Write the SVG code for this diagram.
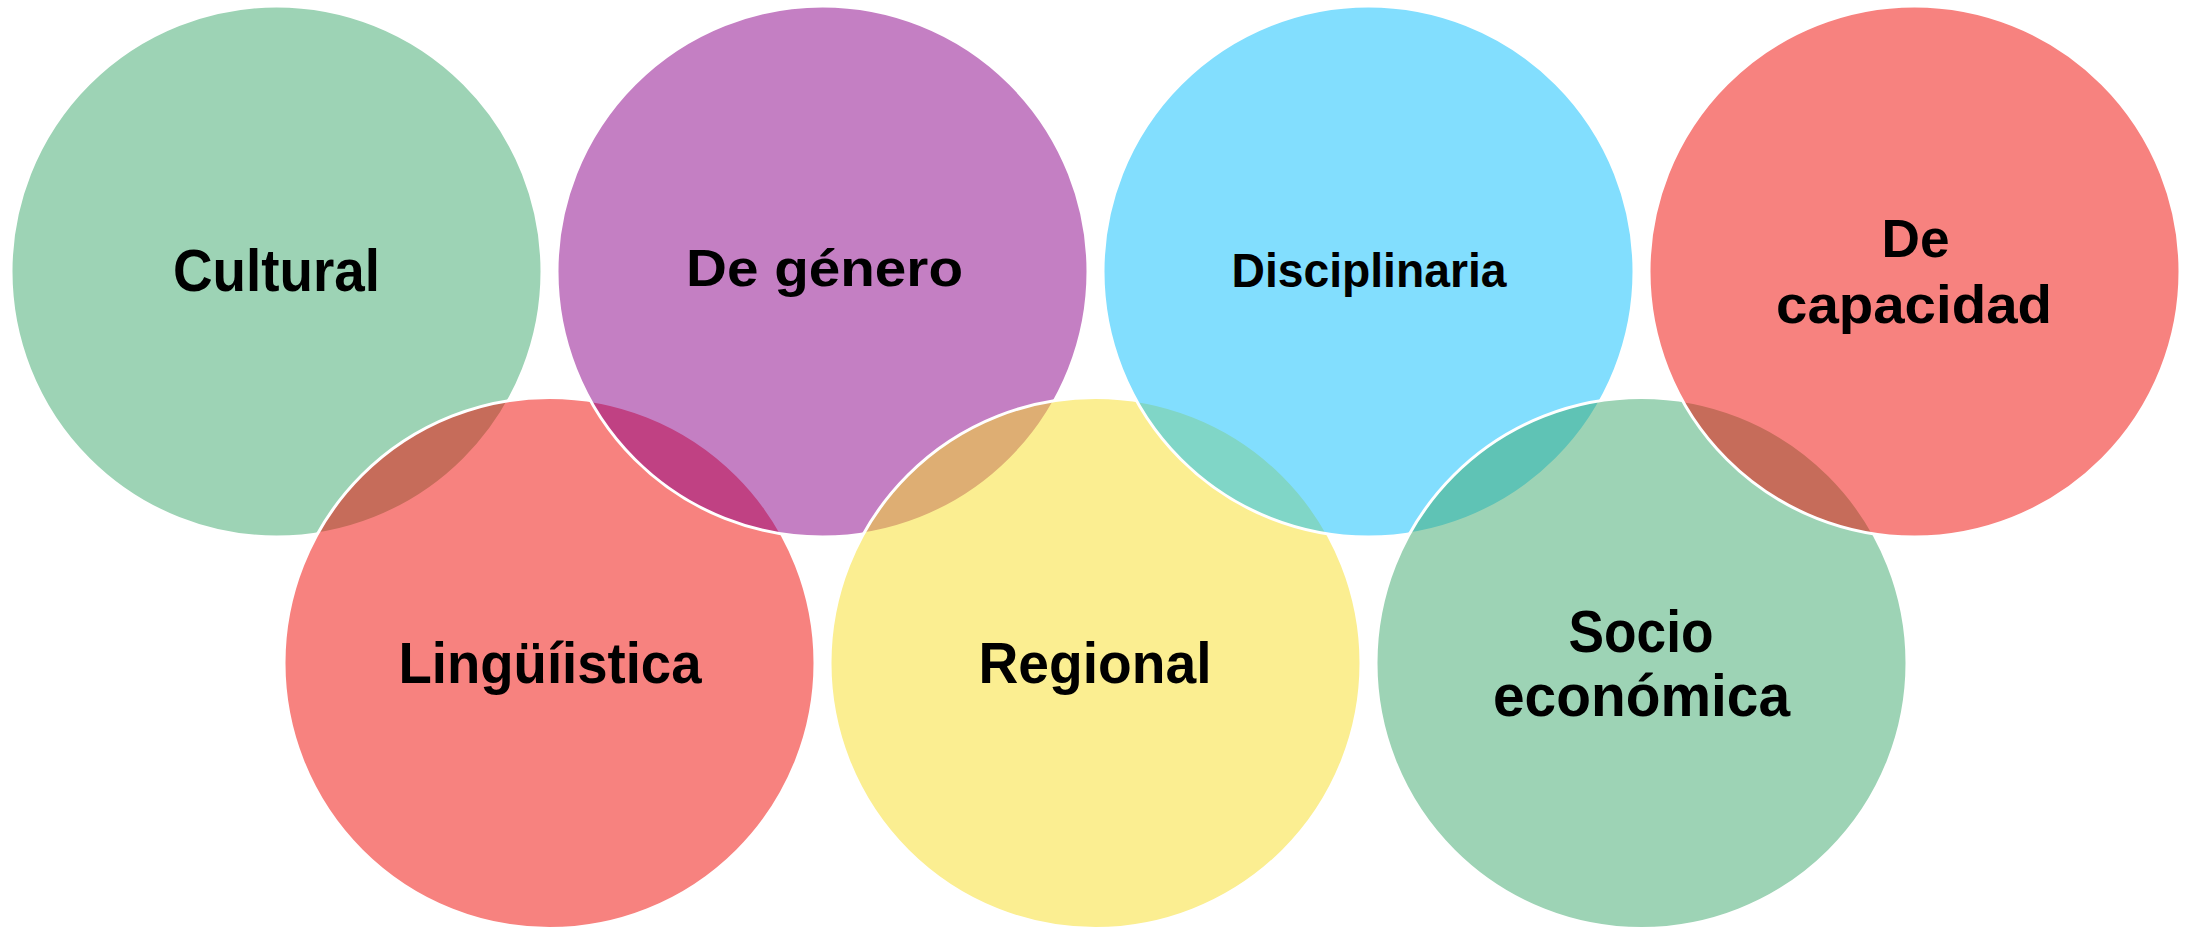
<svg xmlns="http://www.w3.org/2000/svg" width="2196" height="929" viewBox="0 0 2196 929">
<style>
.c{stroke:#FFFFFF;stroke-width:3;fill-opacity:0.5}
.green{fill:#3BA76B}
.purple{fill:#8A0088}
.cyan{fill:#05BDFD}
.red{fill:#EF0500}
.yellow{fill:#F7DD23}
.t{font-family:"Liberation Sans",Arial,sans-serif;font-weight:bold;fill:#000000;text-anchor:middle}
</style>
<rect width="2196" height="929" fill="#FFFFFF"/>
<g id="connectors"></g>
<g id="node-cultural">
<circle class="c green" cx="276.5" cy="271.5" r="265.5"/>
<text class="t" x="276.5" y="291" font-size="60" textLength="207" lengthAdjust="spacingAndGlyphs">Cultural</text>
</g>
<g id="node-linguistica">
<circle class="c red" cx="549.5" cy="663" r="265.5"/>
<text class="t" x="550" y="683" font-size="58" textLength="303" lengthAdjust="spacingAndGlyphs">Lingüíistica</text>
</g>
<g id="node-genero">
<circle class="c purple" cx="822.5" cy="271.5" r="265.5"/>
<text class="t" x="824.5" y="286" font-size="52" textLength="277" lengthAdjust="spacingAndGlyphs">De género</text>
</g>
<g id="node-regional">
<circle class="c yellow" cx="1095.5" cy="663" r="265.5"/>
<text class="t" x="1095" y="683" font-size="57" textLength="233" lengthAdjust="spacingAndGlyphs">Regional</text>
</g>
<g id="node-disciplinaria">
<circle class="c cyan" cx="1368.5" cy="271.5" r="265.5"/>
<text class="t" x="1369" y="287" font-size="48" textLength="275" lengthAdjust="spacingAndGlyphs">Disciplinaria</text>
</g>
<g id="node-socioeconomica">
<circle class="c green" cx="1641.5" cy="663" r="265.5"/>
<text class="t" x="1641" y="652" font-size="60" textLength="145" lengthAdjust="spacingAndGlyphs">Socio</text>
<text class="t" x="1641.5" y="716" font-size="60" textLength="297" lengthAdjust="spacingAndGlyphs">económica</text>
</g>
<g id="node-capacidad">
<circle class="c red" cx="1914.5" cy="271.5" r="265.5"/>
<text class="t" x="1915.5" y="257" font-size="53" textLength="68" lengthAdjust="spacingAndGlyphs">De</text>
<text class="t" x="1914" y="323" font-size="53" textLength="276" lengthAdjust="spacingAndGlyphs">capacidad</text>
</g>
</svg>
